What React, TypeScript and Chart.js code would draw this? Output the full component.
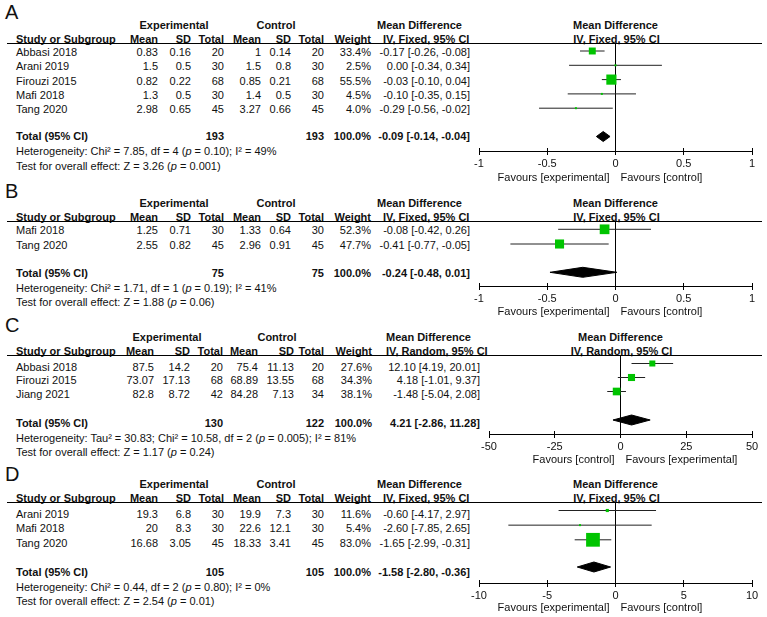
import React, { useEffect, useRef } from "react";
import { Chart, registerables } from "chart.js";
Chart.register(...registerables);

const FONT = '"Liberation Sans", Arial, Helvetica, sans-serif';
const W = 767;

// ---------------- Panel A ----------------
const aStudies = ["Abbasi 2018", "Arani 2019", "Firouzi 2015", "Mafi 2018", "Tang 2020"];
const aExpMean = [0.83, 1.5, 0.82, 1.3, 2.98];
const aExpSD = [0.16, 0.5, 0.22, 0.5, 0.65];
const aExpN = [20, 30, 68, 30, 45];
const aCtlMean = [1, 1.5, 0.85, 1.4, 3.27];
const aCtlSD = [0.14, 0.8, 0.21, 0.5, 0.66];
const aCtlN = [20, 30, 68, 30, 45];
const aWeight = [33.4, 2.5, 55.5, 4.5, 4.0];
const aMD = [-0.17, 0.0, -0.03, -0.1, -0.29];
const aLo = [-0.26, -0.34, -0.1, -0.35, -0.56];
const aHi = [-0.08, 0.34, 0.04, 0.15, -0.02];
const aTotal = [-0.09, -0.14, -0.04];
const aTotalN = [193, 193];
const aTicks = [-1, -0.5, 0, 0.5, 1];

// ---------------- Panel B ----------------
const bStudies = ["Mafi 2018", "Tang 2020"];
const bExpMean = [1.25, 2.55];
const bExpSD = [0.71, 0.82];
const bExpN = [30, 45];
const bCtlMean = [1.33, 2.96];
const bCtlSD = [0.64, 0.91];
const bCtlN = [30, 45];
const bWeight = [52.3, 47.7];
const bMD = [-0.08, -0.41];
const bLo = [-0.42, -0.77];
const bHi = [0.26, -0.05];
const bTotal = [-0.24, -0.48, 0.01];
const bTotalN = [75, 75];
const bTicks = [-1, -0.5, 0, 0.5, 1];

// ---------------- Panel C ----------------
const cStudies = ["Abbasi 2018", "Firouzi 2015", "Jiang 2021"];
const cExpMean = [87.5, 73.07, 82.8];
const cExpSD = [14.2, 17.13, 8.72];
const cExpN = [20, 68, 42];
const cCtlMean = [75.4, 68.89, 84.28];
const cCtlSD = [11.13, 13.55, 7.13];
const cCtlN = [20, 68, 34];
const cWeight = [27.6, 34.3, 38.1];
const cMD = [12.1, 4.18, -1.48];
const cLo = [4.19, -1.01, -5.04];
const cHi = [20.01, 9.37, 2.08];
const cTotal = [4.21, -2.86, 11.28];
const cTotalN = [130, 122];
const cTicks = [-50, -25, 0, 25, 50];

// ---------------- Panel D ----------------
const dStudies = ["Arani 2019", "Mafi 2018", "Tang 2020"];
const dExpMean = [19.3, 20, 16.68];
const dExpSD = [6.8, 8.3, 3.05];
const dExpN = [30, 30, 45];
const dCtlMean = [19.9, 22.6, 18.33];
const dCtlSD = [7.3, 12.1, 3.41];
const dCtlN = [30, 30, 45];
const dWeight = [11.6, 5.4, 83.0];
const dMD = [-0.6, -2.6, -1.65];
const dLo = [-4.17, -7.85, -2.99];
const dHi = [2.97, 2.65, -0.31];
const dTotal = [-1.58, -2.8, -0.36];
const dTotalN = [105, 105];
const dTicks = [-10, -5, 0, 5, 10];

// ---------------- Summary text per panel ----------------
const panelLetters = ["A", "B", "C", "D"];
const methods = ["IV, Fixed, 95% CI", "IV, Fixed, 95% CI", "IV, Random, 95% CI", "IV, Fixed, 95% CI"];
const hetTau2 = ["", "", "30.83", ""];
const hetChi2 = ["7.85", "1.71", "10.58", "0.44"];
const hetDf = ["4", "1", "2", "2"];
const hetP = ["0.10", "0.19", "0.005", "0.80"];
const hetI2 = ["49", "41", "81", "0"];
const testZ = ["3.26", "1.88", "1.17", "2.54"];
const testP = ["0.001", "0.06", "0.24", "0.01"];
const favLeft = ["Favours [experimental]", "Favours [experimental]", "Favours [control]", "Favours [experimental]"];
const favRight = ["Favours [control]", "Favours [control]", "Favours [experimental]", "Favours [control]"];

const panels = [
  { studies: aStudies, em: aExpMean, esd: aExpSD, en: aExpN, cm: aCtlMean, csd: aCtlSD, cn: aCtlN, w: aWeight, md: aMD, lo: aLo, hi: aHi, total: aTotal, totalN: aTotalN, ticks: aTicks },
  { studies: bStudies, em: bExpMean, esd: bExpSD, en: bExpN, cm: bCtlMean, csd: bCtlSD, cn: bCtlN, w: bWeight, md: bMD, lo: bLo, hi: bHi, total: bTotal, totalN: bTotalN, ticks: bTicks },
  { studies: cStudies, em: cExpMean, esd: cExpSD, en: cExpN, cm: cCtlMean, csd: cCtlSD, cn: cCtlN, w: cWeight, md: cMD, lo: cLo, hi: cHi, total: cTotal, totalN: cTotalN, ticks: cTicks },
  { studies: dStudies, em: dExpMean, esd: dExpSD, en: dExpN, cm: dCtlMean, csd: dCtlSD, cn: dCtlN, w: dWeight, md: dMD, lo: dLo, hi: dHi, total: dTotal, totalN: dTotalN, ticks: dTicks },
];

// ---------------- Layout (positions / styles only) ----------------
const colsStd = { study: 16, em: 158, esd: 191, en: 224, cm: 261, csd: 291, cn: 324, w: 371, expC: 174, ctlC: 276, mdR: 470, mdH1: 377, mdH2: 383 };
const colsC = { study: 16, em: 154, esd: 190, en: 223, cm: 258, csd: 294, cn: 324, w: 372, expC: 167, ctlC: 277, mdR: 480, mdH1: 386, mdH2: 386 };

const layouts = [
  { label: 12, hdr1: 24.5, hdr2: 38.5, line: 43, row0: 52, rowH: 14.3, totalT: 136, het: 151, test: 165.5, m0: 51, mH: 14.3, dia: 136.5, axis: 151, fav: 176.5, x0: 479, x1: 752, cols: colsStd, k: 0.5 },
  { label: 190.5, hdr1: 202.5, hdr2: 217, line: 221, row0: 230, rowH: 14.7, totalT: 272.5, het: 287.5, test: 302, m0: 229.3, mH: 14.7, dia: 272.3, axis: 286, fav: 311, x0: 479, x1: 752, cols: colsStd, k: 0.5 },
  { label: 324.5, hdr1: 337, hdr2: 351, line: 355, row0: 366.5, rowH: 13.9, totalT: 423, het: 437.5, test: 451.5, m0: 363.5, mH: 14.0, dia: 420, axis: 434, fav: 459, x0: 489, x1: 752, cols: colsC, k: 0.5 },
  { label: 474, hdr1: 483.5, hdr2: 498, line: 502, row0: 513.5, rowH: 14.8, totalT: 571.5, het: 586.5, test: 600.5, m0: 510.5, mH: 14.65, dia: 567, axis: 583, fav: 607, x0: 479, x1: 752, cols: colsStd, k: 0.5 },
];

const fmtCI = (m: number, l: number, h: number) => `${m.toFixed(2)} [${l.toFixed(2)}, ${h.toFixed(2)}]`;

function Txt(props: { x: number; y: number; align?: string; bold?: boolean; size?: number; children: any }) {
  const { x, y, align = "left", bold = false, size = 11, children } = props;
  const lh = size === 11 ? 16 : 24;
  const off = size === 11 ? 8 : 12;
  const style: any = {
    position: "absolute",
    top: y - off,
    height: lh,
    lineHeight: lh + "px",
    fontSize: size,
    fontWeight: bold ? 700 : 400,
    whiteSpace: "nowrap",
    color: "#111",
    fontFamily: FONT,
  };
  if (align === "left") style.left = x;
  else if (align === "right") {
    style.left = x - 300;
    style.width = 300;
    style.textAlign = "right";
  } else {
    style.left = x - 150;
    style.width = 300;
    style.textAlign = "center";
  }
  return <div style={style}>{children}</div>;
}

const tickUp = {
  id: "tickUp",
  afterDraw(chart: any) {
    const xs = chart.scales.x;
    const ctx = chart.ctx;
    const b = chart.chartArea.bottom;
    ctx.save();
    ctx.strokeStyle = "#000";
    ctx.lineWidth = 1;
    ctx.beginPath();
    xs.ticks.forEach((t: any) => {
      const px = Math.round(xs.getPixelForValue(t.value) - 0.5) + 0.5;
      ctx.moveTo(px, b - 3);
      ctx.lineTo(px, b);
    });
    ctx.stroke();
    ctx.restore();
  },
};

function ForestChart({ p, L }: { p: any; L: any }) {
  const ref = useRef<HTMLCanvasElement>(null);
  const axisH = 24;
  const ch = L.axis - L.line + axisH;
  useEffect(() => {
    const n = p.md.length;
    const h = L.axis - L.line;
    const yMin = -(L.m0 - L.line) / L.mH;
    const yMax = yMin + h / L.mH;
    const tIdx = (L.dia - L.m0) / L.mH;
    const dh = 5 / L.mH;
    const datasets: any[] = [];
    datasets.push({
      data: [{ x: 0, y: yMin }, { x: 0, y: yMax }],
      showLine: true, borderColor: "#000", borderWidth: 1, pointRadius: 0, order: 10,
    });
    for (let i = 0; i < n; i++) {
      datasets.push({
        data: [{ x: p.lo[i], y: i }, { x: p.hi[i], y: i }],
        showLine: true, borderColor: "#222", borderWidth: 1, pointRadius: 0, order: 5,
      });
    }
    datasets.push({
      data: p.md.map((m: number, i: number) => ({ x: m, y: i })),
      showLine: false,
      pointStyle: "rect",
      pointRadius: p.w.map((w: number) => Math.max(2, L.k * Math.pow(w, 0.75)) / Math.SQRT2),
      pointBackgroundColor: "#00c400",
      pointBorderColor: "#00c400",
      pointBorderWidth: 0,
      order: 1,
    });
    const [est, lo, hi] = p.total;
    datasets.push({
      data: [
        { x: lo, y: tIdx }, { x: est, y: tIdx - dh }, { x: hi, y: tIdx }, { x: est, y: tIdx + dh }, { x: lo, y: tIdx },
      ],
      showLine: true, fill: "shape", backgroundColor: "#000", borderColor: "#000", borderWidth: 1, pointRadius: 0, tension: 0, order: 1,
    });
    const chart: any = new Chart(ref.current as HTMLCanvasElement, {
      type: "scatter",
      data: { datasets },
      options: {
        animation: false,
        responsive: false,
        maintainAspectRatio: false,
        devicePixelRatio: 1,
        layout: { padding: { left: L.x0, right: W - L.x1, top: 0, bottom: 0 }, autoPadding: false },
        plugins: { legend: { display: false }, tooltip: { enabled: false } },
        scales: {
          x: {
            type: "linear",
            min: p.ticks[0],
            max: p.ticks[p.ticks.length - 1],
            afterBuildTicks: (axis: any) => {
              axis.ticks = p.ticks.map((v: number) => ({ value: v }));
            },
            ticks: {
              autoSkip: false, maxRotation: 0, padding: 2, color: "#111",
              font: { family: FONT, size: 11 },
              callback: (v: any) => String(v),
            },
            grid: { drawOnChartArea: false, drawTicks: true, tickLength: 4, color: "#000", tickColor: "#000", lineWidth: 1 },
            border: { display: true, color: "#000", width: 1 },
          },
          y: { type: "linear", display: false, min: yMin, max: yMax, reverse: true },
        },
      } as any,
      plugins: [tickUp],
    });
    // make the plot area end exactly at the axis line position
    for (let k = 0; k < 3; k++) {
      const diff = chart.chartArea.bottom - h;
      if (Math.abs(diff) < 0.01) break;
      chart.options.layout.padding.bottom = Math.max(0, chart.options.layout.padding.bottom + diff);
      chart.update();
    }
    return () => chart.destroy();
  }, []);
  return (
    <canvas
      ref={ref}
      width={W}
      height={ch}
      style={{ position: "absolute", left: 0, top: L.line, width: W, height: ch }}
    />
  );
}

function Panel({ idx }: { idx: number }) {
  const p = panels[idx];
  const L = layouts[idx];
  const c = L.cols;
  const zero = L.x0 + ((0 - p.ticks[0]) / (p.ticks[p.ticks.length - 1] - p.ticks[0])) * (L.x1 - L.x0);
  const rows = p.studies.map((s: string, i: number) => {
    const y = L.row0 + i * L.rowH;
    return (
      <React.Fragment key={i}>
        <Txt x={c.study} y={y}>{s}</Txt>
        <Txt x={c.em} y={y} align="right">{String(p.em[i])}</Txt>
        <Txt x={c.esd} y={y} align="right">{String(p.esd[i])}</Txt>
        <Txt x={c.en} y={y} align="right">{String(p.en[i])}</Txt>
        <Txt x={c.cm} y={y} align="right">{String(p.cm[i])}</Txt>
        <Txt x={c.csd} y={y} align="right">{String(p.csd[i])}</Txt>
        <Txt x={c.cn} y={y} align="right">{String(p.cn[i])}</Txt>
        <Txt x={c.w} y={y} align="right">{p.w[i].toFixed(1) + "%"}</Txt>
        <Txt x={c.mdR} y={y} align="right">{fmtCI(p.md[i], p.lo[i], p.hi[i])}</Txt>
      </React.Fragment>
    );
  });
  return (
    <>
      <Txt x={5} y={L.label} size={20}>{panelLetters[idx]}</Txt>
      <Txt x={c.expC} y={L.hdr1} align="center" bold>Experimental</Txt>
      <Txt x={c.ctlC} y={L.hdr1} align="center" bold>Control</Txt>
      <Txt x={c.mdH1} y={L.hdr1} bold>Mean Difference</Txt>
      <Txt x={zero} y={L.hdr1} align="center" bold>Mean Difference</Txt>
      <Txt x={c.study} y={L.hdr2} bold>Study or Subgroup</Txt>
      <Txt x={c.em} y={L.hdr2} align="right" bold>Mean</Txt>
      <Txt x={c.esd} y={L.hdr2} align="right" bold>SD</Txt>
      <Txt x={c.en} y={L.hdr2} align="right" bold>Total</Txt>
      <Txt x={c.cm} y={L.hdr2} align="right" bold>Mean</Txt>
      <Txt x={c.csd} y={L.hdr2} align="right" bold>SD</Txt>
      <Txt x={c.cn} y={L.hdr2} align="right" bold>Total</Txt>
      <Txt x={c.w} y={L.hdr2} align="right" bold>Weight</Txt>
      <Txt x={c.mdH2} y={L.hdr2} bold>{methods[idx]}</Txt>
      <Txt x={zero + 1} y={L.hdr2} align="center" bold>{methods[idx]}</Txt>
      <div style={{ position: "absolute", left: 7, top: L.line, width: 762 - 7, height: 1, background: "#000" }} />
      {rows}
      <Txt x={c.study} y={L.totalT} bold>Total (95% CI)</Txt>
      <Txt x={c.en} y={L.totalT} align="right" bold>{String(p.totalN[0])}</Txt>
      <Txt x={c.cn} y={L.totalT} align="right" bold>{String(p.totalN[1])}</Txt>
      <Txt x={c.w} y={L.totalT} align="right" bold>100.0%</Txt>
      <Txt x={c.mdR} y={L.totalT} align="right" bold>{fmtCI(p.total[0], p.total[1], p.total[2])}</Txt>
      <Txt x={c.study} y={L.het}>
        {"Heterogeneity: "}
        {hetTau2[idx] ? `Tau² = ${hetTau2[idx]}; ` : ""}
        {`Chi² = ${hetChi2[idx]}, df = ${hetDf[idx]} (`}
        <i>p</i>
        {` = ${hetP[idx]}); I² = ${hetI2[idx]}%`}
      </Txt>
      <Txt x={c.study} y={L.test}>
        {`Test for overall effect: Z = ${testZ[idx]} (`}
        <i>p</i>
        {` = ${testP[idx]})`}
      </Txt>
      <ForestChart p={p} L={L} />
      <Txt x={zero - 6} y={L.fav} align="right">{favLeft[idx]}</Txt>
      <Txt x={zero + 5} y={L.fav}>{favRight[idx]}</Txt>
    </>
  );
}

export default function App() {
  return (
    <div style={{ position: "absolute", left: 0, top: 0, width: W, height: 617, background: "#fff", overflow: "hidden", fontFamily: FONT }}>
      {panels.map((_, i) => (
        <Panel key={i} idx={i} />
      ))}
    </div>
  );
}
